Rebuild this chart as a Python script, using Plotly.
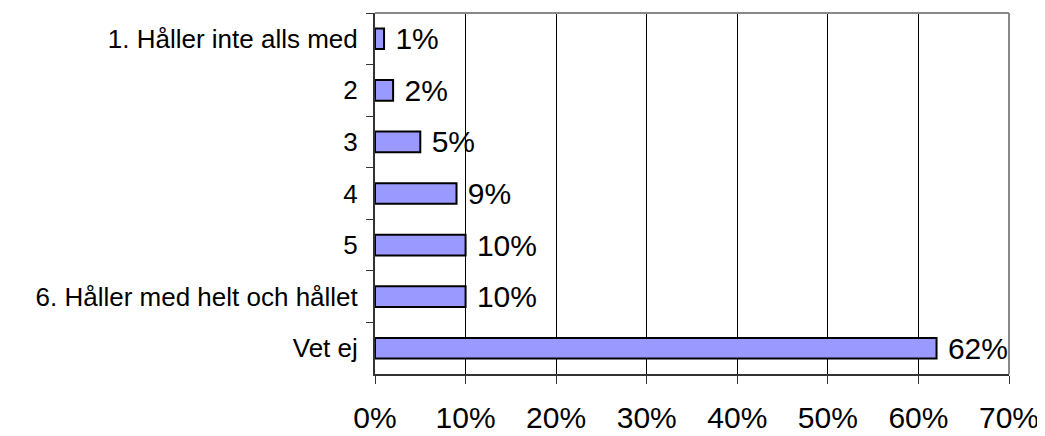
import plotly.graph_objects as go

categories = ["1. Håller inte alls med", "2", "3", "4", "5", "6. Håller med helt och hållet", "Vet ej"]
values = [1, 2, 5, 9, 10, 10, 62]
labels = ["1%", "2%", "5%", "9%", "10%", "10%", "62%"]
x_ticks = [0, 10, 20, 30, 40, 50, 60, 70]
x_tick_text = ["0%", "10%", "20%", "30%", "40%", "50%", "60%", "70%"]

font_family = "Arial, Liberation Sans, sans-serif"

fig = go.Figure(go.Bar(
    y=categories, x=values, orientation="h",
    text=[" " + t for t in labels], textposition="outside", cliponaxis=False,
    constraintext="none",
    textfont=dict(size=30, color="black", family=font_family),
    marker=dict(color="#9999FF", line=dict(color="black", width=2)),
    width=0.4,
))

fig.update_layout(
    width=1037, height=428,
    margin=dict(l=367, r=36, t=5, b=62, autoexpand=False),
    paper_bgcolor="white", plot_bgcolor="white",
    showlegend=False,
    font=dict(family=font_family, color="black"),
    xaxis=dict(
        range=[0, 70], tickvals=x_ticks, ticktext=x_tick_text,
        showgrid=True, gridcolor="black", gridwidth=1,
        showline=True, linecolor="#333333", linewidth=2,
        ticks="outside", ticklen=8, tickcolor="#333333", tickwidth=1,
        tickfont=dict(size=30), ticklabelstandoff=8,
        zeroline=False,
    ),
    yaxis=dict(
        autorange="reversed", type="category",
        showline=True, linecolor="#333333", linewidth=2,
        ticks="outside", ticklen=7, tickcolor="#333333", tickwidth=1,
        tickson="boundaries", showgrid=False,
        tickfont=dict(size=26), ticklabelstandoff=10,
    ),
    shapes=[
        dict(type="line", xref="paper", yref="paper", x0=0, x1=1, y0=1, y1=1,
             line=dict(color="#888888", width=2)),
        dict(type="line", xref="paper", yref="paper", x0=1, x1=1, y0=0, y1=1,
             line=dict(color="#888888", width=2)),
    ],
)

fig.write_html("out.html")
